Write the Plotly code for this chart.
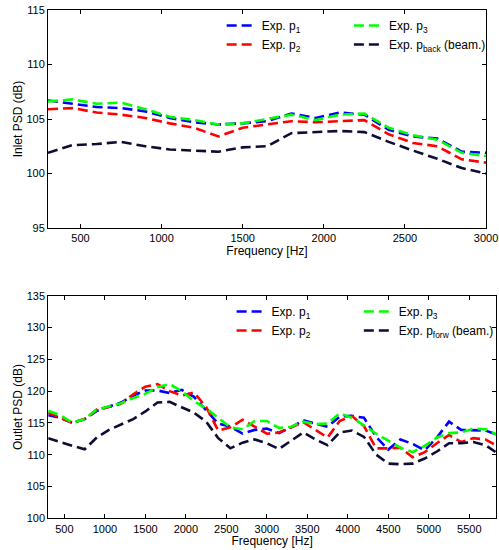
import plotly.graph_objects as go

# ---------------- data ----------------
freq_in = [300, 450, 600, 750, 900, 1050, 1200, 1350, 1500, 1650, 1800, 1950,
           2100, 2250, 2400, 2550, 2700, 2850, 3000]
in_p1 = [106.7, 106.4, 106.1, 106.0, 105.7, 105.1, 104.7, 104.5, 104.6, 104.8, 105.5,
         105.1, 105.6, 105.4, 104.0, 103.4, 103.2, 102.0, 101.9]
in_p2 = [105.9, 106.0, 105.6, 105.4, 105.1, 104.6, 104.2, 103.4, 104.2, 104.5, 104.8,
         104.7, 104.8, 104.9, 103.6, 102.8, 102.5, 101.3, 101.0]
in_p3 = [106.6, 106.8, 106.4, 106.5, 105.9, 105.2, 104.9, 104.5, 104.6, 105.0, 105.4,
         104.9, 105.4, 105.5, 104.2, 103.5, 103.1, 101.9, 101.6]
in_pback = [101.9, 102.6, 102.7, 102.9, 102.5, 102.2, 102.1, 102.0, 102.4, 102.5, 103.7,
            103.8, 103.9, 103.8, 102.9, 102.1, 101.35, 100.5, 100.0]

freq_out = [300, 450, 600, 750, 900, 1050, 1200, 1350, 1500, 1650, 1800, 1950, 2100,
            2250, 2400, 2550, 2700, 2850, 3000, 3150, 3300, 3450, 3600, 3750, 3900,
            4050, 4200, 4350, 4500, 4650, 4800, 4950, 5100, 5250, 5400, 5550, 5700, 5850]
out_p1 = [116.2, 115.8, 115.0, 115.6, 116.9, 117.5, 118.2, 119.3, 120.1, 120.1, 119.7,
          120.2, 119.1, 117.0, 114.9, 114.4, 113.3, 113.9, 114.1, 113.4, 114.3, 115.4,
          114.9, 114.4, 116.0, 116.1, 115.8, 112.8, 110.8, 112.4, 111.7, 110.7, 112.7,
          115.2, 113.9, 113.9, 113.8, 113.1]
out_p2 = [116.6, 115.8, 115.0, 115.6, 117.1, 117.5, 118.0, 119.5, 120.7, 121.1, 120.0,
          119.3, 119.8, 117.5, 113.8, 114.3, 115.5, 114.4, 113.3, 113.5, 114.3, 115.1,
          113.9, 112.7, 115.3, 116.1, 114.5, 111.0, 111.0, 111.1, 109.6, 110.4, 111.8,
          113.1, 112.0, 112.6, 112.4, 111.3]
out_p3 = [116.9, 116.2, 115.0, 115.6, 117.1, 117.6, 118.1, 118.9, 119.6, 120.6, 121.1,
          120.0, 118.4, 117.3, 115.8, 114.3, 114.0, 115.3, 115.3, 114.2, 114.4, 115.2,
          114.8, 114.9, 116.5, 115.8, 114.6, 113.3, 112.2, 111.1, 110.4, 111.4, 112.7,
          113.4, 113.5, 114.1, 114.0, 113.1]
out_pforw = [112.6, 111.95, 111.4, 110.85, 112.7, 113.9, 114.7, 115.6, 116.8, 118.2,
             118.3, 117.5, 116.6, 115.2, 112.6, 111.0, 111.9, 112.4, 111.8, 110.9,
             112.2, 113.5, 112.4, 111.5, 113.5, 113.8, 112.8, 110.0, 108.6, 108.5,
             108.6, 109.4, 110.5, 111.8, 111.8, 112.0, 111.5, 110.2]

in_yticks = [95, 100, 105, 110, 115]
in_xticks = [500, 1000, 1500, 2000, 2500, 3000]
out_yticks = [100, 105, 110, 115, 120, 125, 130, 135]
out_xticks = [500, 1000, 1500, 2000, 2500, 3000, 3500, 4000, 4500, 5000, 5500]

# ---------------- style ----------------
FONT = "Liberation Sans, Arial, Helvetica, sans-serif"
C_BLUE, C_RED, C_GREEN, C_DARK = "#0000ff", "#ff0000", "#00ff00", "#0d0d35"
DASH = "10px,5px"
LW = 2.6

fig = go.Figure()

def add(x, y, name, color, xa, ya, legend):
    fig.add_trace(go.Scatter(
        x=x, y=y, mode="lines", name=name,
        line=dict(color=color, width=LW, dash=DASH),
        xaxis=xa, yaxis=ya, legend=legend))

add(freq_in, in_p1, "Exp. p<sub>1</sub>", C_BLUE, "x", "y", "legend")
add(freq_in, in_p2, "Exp. p<sub>2</sub>", C_RED, "x", "y", "legend")
add(freq_in, in_p3, "Exp. p<sub>3</sub>", C_GREEN, "x", "y", "legend3")
add(freq_in, in_pback, "Exp. p<sub>back</sub> (beam.)", C_DARK, "x", "y", "legend3")

add(freq_out, out_p1, "Exp. p<sub>1</sub>", C_BLUE, "x2", "y2", "legend2")
add(freq_out, out_p2, "Exp. p<sub>2</sub>", C_RED, "x2", "y2", "legend2")
add(freq_out, out_p3, "Exp. p<sub>3</sub>", C_GREEN, "x2", "y2", "legend4")
add(freq_out, out_pforw, "Exp. p<sub>forw</sub> (beam.)", C_DARK, "x2", "y2", "legend4")

W, H = 499, 550

def px_x(p):
    return p / W

def px_y(p):
    return 1 - p / H

axis_common = dict(
    showline=True, linecolor="black", linewidth=1, mirror="ticks",
    ticks="inside", ticklen=4, tickcolor="black", tickwidth=1,
    showgrid=False, zeroline=False, automargin=False,
    ticklabeloverflow="allow",
    tickfont=dict(family=FONT, size=11, color="black"),
)

def leg(xp, yp):
    return dict(orientation="v", x=px_x(xp), y=px_y(yp), xanchor="left", yanchor="top",
                bgcolor="rgba(0,0,0,0)", borderwidth=0,
                font=dict(family=FONT, size=12), tracegroupgap=0)

fig.update_layout(
    width=W, height=H,
    margin=dict(l=0, r=0, t=0, b=0),
    paper_bgcolor="white", plot_bgcolor="white",
    font=dict(family=FONT, size=11, color="black"),
    showlegend=True,
    xaxis=dict(domain=[px_x(48.3), px_x(489)], range=[300, 3000], tickvals=in_xticks,
               anchor="y",
               title=dict(text="Frequency [Hz]", standoff=2,
                          font=dict(family=FONT, size=12)),
               **axis_common),
    yaxis=dict(domain=[px_y(228), px_y(10)], range=[95, 115], tickvals=in_yticks,
               anchor="x",
               title=dict(text="Inlet PSD (dB)", standoff=1,
                          font=dict(family=FONT, size=12)),
               **axis_common),
    xaxis2=dict(domain=[px_x(48.5), 1.0], range=[300, 5830], tickvals=out_xticks,
                anchor="y2",
                title=dict(text="Frequency [Hz]", standoff=2,
                           font=dict(family=FONT, size=12)),
                **axis_common),
    yaxis2=dict(domain=[px_y(518.3), px_y(295.7)], range=[100, 135], tickvals=out_yticks,
                anchor="x2",
                title=dict(text="Outlet PSD (dB)", standoff=1,
                           font=dict(family=FONT, size=12)),
                **axis_common),
    legend=leg(223, 11),
    legend3=leg(351, 11),
    legend2=leg(233, 297),
    legend4=leg(361, 297),
)

fig.write_html("out.html")
